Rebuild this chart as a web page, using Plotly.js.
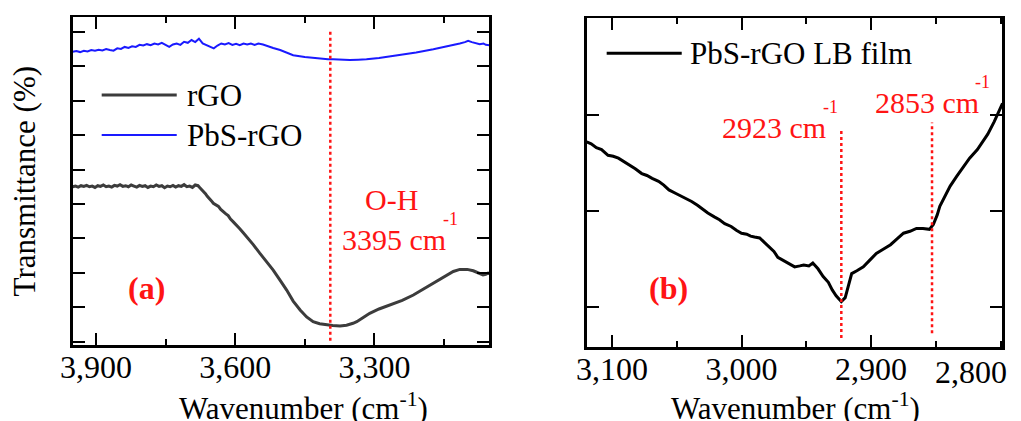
<!DOCTYPE html>
<html>
<head>
<meta charset="utf-8">
<script src="https://cdn.plot.ly/plotly-3.0.1.min.js"></script>
<style>html,body{margin:0;padding:0;background:#fff;overflow:hidden;}#chart{width:1021px;height:421px;}</style>
</head>
<body>
<div id="chart"></div>
<script>
// ---- Panel (a) data: rGO ----
const rgoWavenumber = [3950,3944,3938,3932,3926,3920,3914,3908,3902,3896,3890,3884,3878,3872,3866,3860,3854,3848,3842,3836,3830,3824,3818,3812,3806,3800,3794,3788,3782,3776,3770,3764,3758,3752,3746,3740,3734,3728,3722,3716,3710,3704,3698,3692,3686,
  3680,3676,3672,3669,3664,3660,3655,3651,3647,3642,3636,3631,3626,3620,3615,3610,3604,3597,3590,3583,3575,3561,3547,3532,3518,3503,3489,3475,3460,3446,3432,3418,3403,3390,3374,3360,3346,3338,3324,3310,3290,3266,3240,3216,3198,3180,3162,3144,3130,3116,3100,3087,3075,3066,3060,3055,3052];
const rgoTransmittance = [4.50,4.52,4.49,4.53,4.51,4.54,4.50,4.52,4.48,4.53,4.51,4.55,4.50,4.52,4.49,4.54,4.52,4.56,4.51,4.53,4.50,4.55,4.52,4.49,4.54,4.51,4.53,4.48,4.52,4.50,4.55,4.51,4.53,4.47,4.52,4.50,4.54,4.49,4.53,4.51,4.56,4.50,4.52,4.48,4.55,
  4.53,4.47,4.42,4.36,4.30,4.22,4.16,4.09,4.02,3.99,3.93,3.84,3.77,3.71,3.66,3.56,3.48,3.39,3.28,3.17,3.05,2.82,2.57,2.33,2.08,1.78,1.50,1.18,0.92,0.72,0.58,0.52,0.485,0.47,0.456,0.48,0.534,0.58,0.70,0.825,0.95,1.066,1.20,1.356,1.50,1.646,1.80,1.937,2.04,2.10,2.10,2.06,2.00,1.94,1.96,1.99,1.98];

// ---- Panel (a) data: PbS-rGO ----
const pbsWavenumber = [3950,3942,3934,3926,3918,3910,3902,3894,3886,3878,3870,3862,3854,3846,3838,3830,3822,3814,3806,3798,3790,3782,3774,3766,3758,3750,3742,3734,3726,3718,3710,3702,3694,3686,3678,3670,3662,3654,3646,3638,3630,3622,3614,3606,3598,3590,3582,3574,3566,3558,3550,
  3540,3532,3518,3503,3490,3475,3450,3424,3400,3389,3370,3353,3335,3317,3290,3270,3245,3210,3173,3140,3116,3105,3098,3090,3080,3073,3065,3060,3052];
const pbsTransmittance = [8.42,8.44,8.41,8.45,8.43,8.47,8.45,8.48,8.46,8.50,8.47,8.45,8.52,8.50,8.56,8.53,8.58,8.56,8.62,8.60,8.64,8.61,8.66,8.63,8.68,8.62,8.56,8.63,8.66,8.62,8.71,8.68,8.76,8.70,8.80,8.66,8.62,8.56,8.52,8.60,8.66,8.63,8.67,8.62,8.65,8.61,8.66,8.63,8.66,8.62,8.66,
  8.63,8.59,8.53,8.47,8.40,8.32,8.27,8.23,8.20,8.20,8.18,8.18,8.19,8.20,8.24,8.28,8.32,8.40,8.49,8.58,8.66,8.70,8.74,8.70,8.66,8.64,8.66,8.62,8.61];

// ---- Panel (b) data: PbS-rGO LB film ----
const lbWavenumber = [3119.5,3116,3112,3108,3103,3099,3095,3090,3086,3082,3077,3073,3069,3064,3060,3056,3051,3047,3043,3038.5,3034,3030,3026,3021,3017,3013,3008,3004,3000,2996,2993,2990,2986,2982,2978,2975,2972,2968,2964,2959,2955,2952,2948,2945,2941,2937,2933,2930,2927,2923,2920,2917,2915,2911,2906,2901,2896,2891,2885,2880,2875,2870,2865,2860,2855,2852,2849,2847,2843,2839,2834,2829,2824,2818,2814,2810,2805,2800.5,2798.6];
const lbTransmittance = [1.72,1.70,1.66,1.64,1.58,1.57,1.55,1.51,1.48,1.44,1.39,1.37,1.34,1.31,1.27,1.22,1.185,1.16,1.13,1.10,1.06,1.02,0.98,0.94,0.91,0.87,0.84,0.80,0.77,0.76,0.74,0.73,0.72,0.67,0.62,0.58,0.52,0.49,0.46,0.42,0.43,0.44,0.43,0.46,0.40,0.32,0.26,0.18,0.12,0.06,0.10,0.25,0.35,0.38,0.42,0.49,0.56,0.60,0.65,0.71,0.77,0.79,0.82,0.82,0.81,0.86,0.96,1.05,1.15,1.26,1.36,1.46,1.55,1.64,1.72,1.80,1.93,2.07,2.12];

// ---- marked peaks ----
const peakA = [3395];
const peaksB = [2923, 2853];

// ---- tick labels ----
const ticksA = [3900, 3600, 3300];
const ticksALabels = ['3,900', '3,600', '3,300'];
const ticksB = [3100, 3000, 2900];
const ticksBLabels = ['3,100', '3,000', '2,900'];
const lastTickB = 2800;
const lastTickBLabel = '2,800';
const xTitle = 'Wavenumber (cm<sup>-1</sup>)';
const yTitle = 'Transmittance (%)';

const FONT = 'Liberation Serif';
const RED = '#ff1414';
const TICKSIZE = 32;

const traces = [
  {x: rgoWavenumber, y: rgoTransmittance, type: 'scatter', mode: 'lines', name: 'rGO',
   line: {color: '#3c3c3c', width: 3}, xaxis: 'x', yaxis: 'y', showlegend: false},
  {x: pbsWavenumber, y: pbsTransmittance, type: 'scatter', mode: 'lines', name: 'PbS-rGO',
   line: {color: '#1a1aff', width: 2}, xaxis: 'x', yaxis: 'y', showlegend: false},
  {x: lbWavenumber, y: lbTransmittance, type: 'scatter', mode: 'lines', name: 'PbS-rGO LB film',
   line: {color: '#000000', width: 3}, xaxis: 'x2', yaxis: 'y2', showlegend: false}
];

const axisCommon = {
  showgrid: false, zeroline: false, showline: true, linecolor: '#000', linewidth: 2.5,
  mirror: 'ticks', ticks: 'inside', tickcolor: '#000', tickwidth: 2,
  tickfont: {family: FONT, size: TICKSIZE, color: '#000'}
};

const shapes = [];
shapes.push({type: 'line', xref: 'x', yref: 'y', x0: peakA[0], x1: peakA[0], y0: 0.03, y1: 9.0,
  line: {color: RED, width: 2.5, dash: 'dot'}});
shapes.push({type: 'line', xref: 'x2', yref: 'y2', x0: peaksB[0], x1: peaksB[0], y0: -0.32, y1: 1.86,
  line: {color: RED, width: 2.5, dash: 'dot'}});
shapes.push({type: 'line', xref: 'x2', yref: 'y2', x0: peaksB[1], x1: peaksB[1], y0: -0.27, y1: 1.92,
  line: {color: RED, width: 2.5, dash: 'dot'}});
// hand-drawn legend lines
shapes.push({type: 'line', xref: 'paper', yref: 'paper', x0: 0.0996, x1: 0.1731, y0: 0.7743, y1: 0.7743,
  line: {color: '#3c3c3c', width: 3}});
shapes.push({type: 'line', xref: 'paper', yref: 'paper', x0: 0.0996, x1: 0.1731, y0: 0.6793, y1: 0.6793,
  line: {color: '#1a1aff', width: 2}});
shapes.push({type: 'line', xref: 'paper', yref: 'paper', x0: 0.5942, x1: 0.6677, y0: 0.8734, y1: 0.8734,
  line: {color: '#000', width: 3}});

function ann(text, x, y, xref, yref, opts) {
  return Object.assign({text: text, x: x, y: y, xref: xref, yref: yref, showarrow: false,
    font: {family: FONT, size: 31, color: '#000'}, xanchor: 'center', yanchor: 'middle'}, opts || {});
}

const annotations = [
  ann('rGO', 0.1812, 0.7743, 'paper', 'paper', {xanchor: 'left'}),
  ann('PbS-rGO', 0.1812, 0.6793, 'paper', 'paper', {xanchor: 'left'}),
  ann('PbS-rGO LB film', 0.6741, 0.8734, 'paper', 'paper', {xanchor: 'left'}),
  ann('O-H', 3264, 4.14, 'x', 'y', {font: {family: FONT, size: 30, color: RED}}),
  ann('3395 cm', 3258, 2.98, 'x', 'y', {font: {family: FONT, size: 30, color: RED}}),
  ann('-1', 3135, 3.56, 'x', 'y', {font: {family: FONT, size: 18, color: RED}}),
  ann('<b>(a)</b>', 3792, 1.56, 'x', 'y', {font: {family: FONT, size: 32, color: RED}}),
  ann('2923 cm', 2975.2, 1.864, 'x2', 'y2', {font: {family: FONT, size: 30, color: RED}}),
  ann('-1', 2931, 2.085, 'x2', 'y2', {font: {family: FONT, size: 18, color: RED}}),
  ann('2853 cm', 2857, 2.124, 'x2', 'y2', {font: {family: FONT, size: 30, color: RED}}),
  ann('-1', 2814.2, 2.345, 'x2', 'y2', {font: {family: FONT, size: 18, color: RED}}),
  ann('<b>(b)</b>', 3056, 0.20, 'x2', 'y2', {font: {family: FONT, size: 32, color: RED}}),
  ann(lastTickBLabel, lastTickB, 0.1164, 'x2', 'paper', {xanchor: 'right', xshift: 8, font: {family: FONT, size: TICKSIZE, color: '#000'}}),
  // x axis titles (placed low, running to the bottom edge as in the reference)
  ann(xTitle, 0.2977, 0.035, 'paper', 'paper', {font: {family: FONT, size: 31, color: '#000'}}),
  ann(xTitle, 0.7796, 0.035, 'paper', 'paper', {font: {family: FONT, size: 31, color: '#000'}})
];

const layout = {
  width: 1021, height: 421,
  margin: {l: 0, r: 0, t: 0, b: 0},
  paper_bgcolor: '#fff', plot_bgcolor: '#fff',
  showlegend: false,
  xaxis: Object.assign({}, axisCommon, {
    domain: [0.0712, 0.4792], range: [3950, 3052.5],
    tickvals: ticksA, ticktext: ticksALabels, ticklen: 12, ticklabelstandoff: -8,
    minor: {dtick: 150, tick0: 3900, ticks: 'inside', ticklen: 6, tickwidth: 2, tickcolor: '#000', showgrid: false}
  }),
  yaxis: Object.assign({}, axisCommon, {
    domain: [0.1805, 0.9589], range: [-0.096, 9.42],
    tickvals: [0,1,2,3,4,5,6,7,8,9], showticklabels: false, ticklen: 12,
    title: {text: yTitle, font: {family: FONT, size: 31, color: '#000'}, standoff: 26}
  }),
  xaxis2: Object.assign({}, axisCommon, {
    anchor: 'y2', domain: [0.5746, 0.9814], range: [3119.5, 2799],
    tickvals: ticksB, ticktext: ticksBLabels, ticklen: 12, ticklabelstandoff: -8,
    minor: {dtick: 50, tick0: 3100, ticks: 'inside', ticklen: 6, tickwidth: 2, tickcolor: '#000', showgrid: false}
  }),
  yaxis2: Object.assign({}, axisCommon, {
    anchor: 'x2', domain: [0.1751, 0.9565], range: [-0.416, 3.004],
    tickvals: [0,1,2], showticklabels: false, ticklen: 12
  }),
  shapes: shapes,
  annotations: annotations
};

Plotly.newPlot('chart', traces, layout, {staticPlot: true, displayModeBar: false});
</script>
</body>
</html>
